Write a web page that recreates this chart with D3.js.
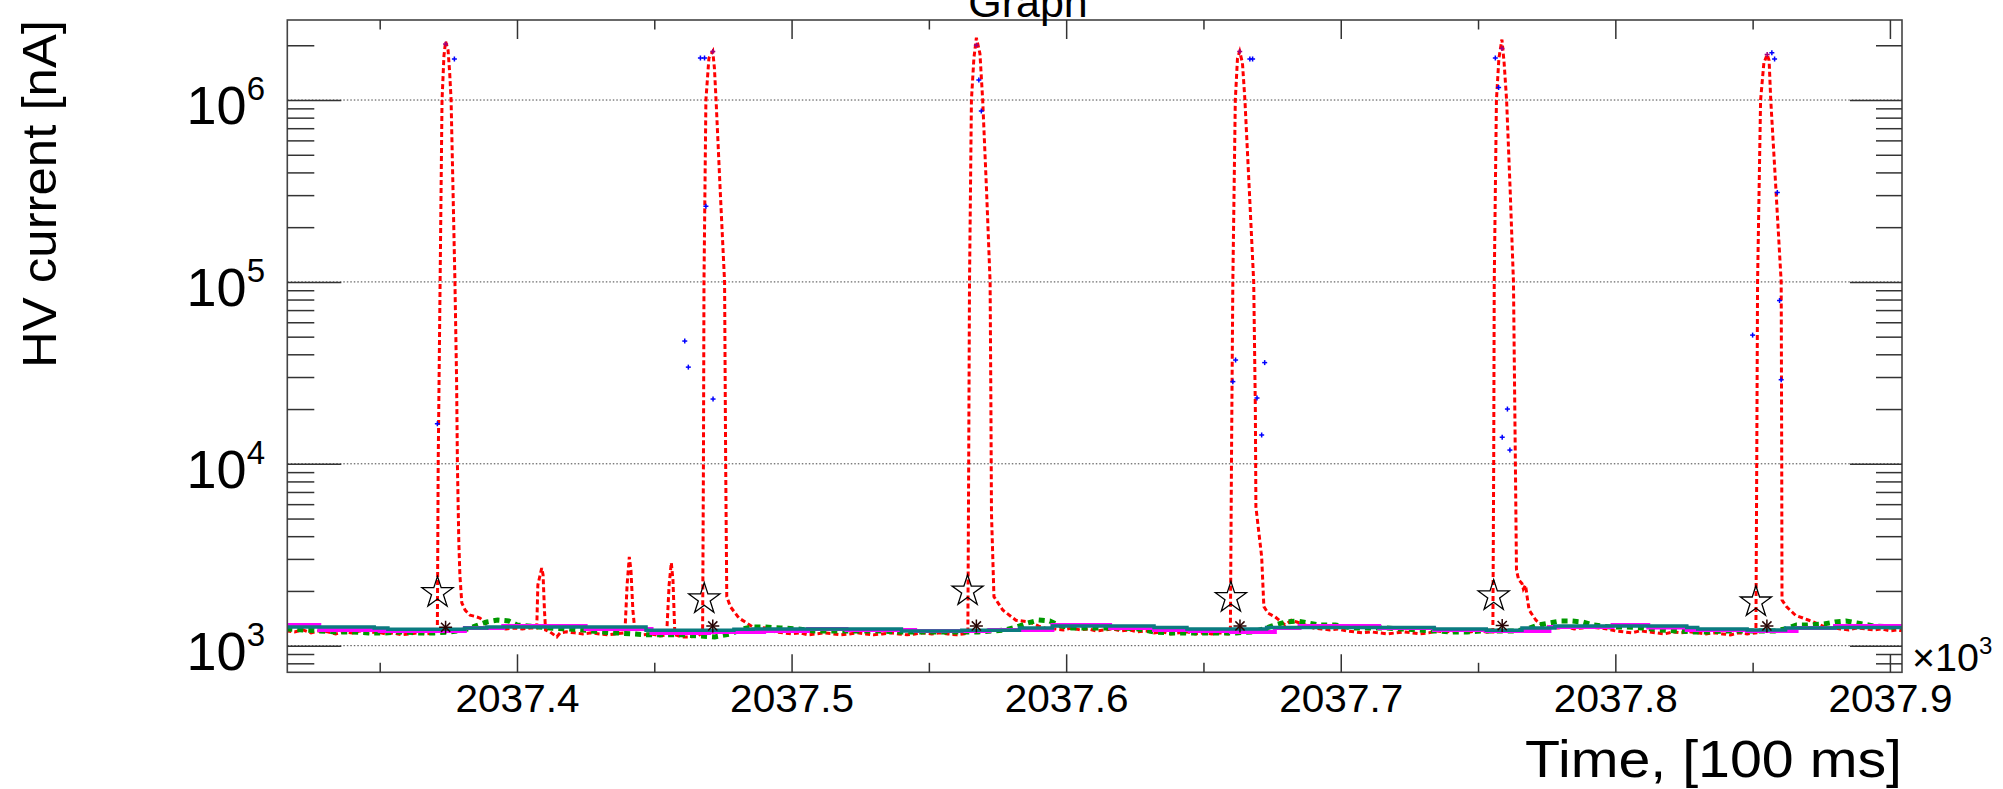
<!DOCTYPE html>
<html><head><meta charset="utf-8">
<script src="https://cdn.jsdelivr.net/npm/d3@7"></script>
<style>html,body{margin:0;padding:0;background:#fff;}svg{display:block;font-family:"Liberation Sans",Arial,Helvetica,sans-serif;}</style>
</head><body><svg id="c" width="2003" height="789"></svg>
<script>
// ---------- data (time in [100 ms], current in nA) ----------
const xDomain = [2037316.35, 2037904.4];
const yDomain = [714, 2.754e6];
const xMajorTicks = [2037400, 2037500, 2037600, 2037700, 2037800, 2037900];
const xTickLabels = ["2037.4", "2037.5", "2037.6", "2037.7", "2037.8", "2037.9"];
const xMinorTicks = [2037350, 2037450, 2037550, 2037650, 2037750, 2037850];
const yMajorTicks = [1e3, 1e4, 1e5, 1e6];
const yTickExponents = ["3", "4", "5", "6"];
const yMinorTicks = [800, 900, 2e3, 3e3, 4e3, 5e3, 6e3, 7e3, 8e3, 9e3, 2e4, 3e4, 4e4, 5e4, 6e4, 7e4, 8e4, 9e4,
  2e5, 3e5, 4e5, 5e5, 6e5, 7e5, 8e5, 9e5, 2e6];

const redTime = [2037316,2037319,2037322,2037325,2037328,2037331,2037334,2037337,2037340,2037343,2037346,2037349,2037352,2037355,2037358,2037361,2037364,2037367,2037370,
 2037371.0,2037371.3,2037372.0,2037372.7,2037373.4,2037374.0,2037374.9,2037375.5,2037376.0,2037376.7,2037377.4,2037378.0,2037378.3,2037378.8,2037379.2,2037379.9,2037381.1,2037382.9,2037384.7,2037386.5,2037388.3,2037390.2,
 2037393,2037396,2037399,2037402,2037405,2037407.2,2037407.6,2037409.0,2037409.5,2037410.0,2037410.4,2037412.0,2037414.5,2037415.7,2037418,2037421,2037424,2037427,2037430,2037433,2037436,
 2037439.3,2037440.1,2037440.9,2037441.5,2037442.2,2037443.0,2037446,2037449,2037452,2037454.5,2037455.4,2037456.2,2037456.8,2037457.5,2037460,2037463,2037466,
 2037467.6,2037467.9,2037468.1,2037468.8,2037469.9,2037471.3,2037471.9,2037472.5,2037474.0,2037475.6,2037476.0,2037476.4,2037477.7,2037480.8,2037485.8,2037490.7,
 2037494,2037497,2037500,2037503,2037506,2037509,2037512,2037515,2037518,2037521,2037524,2037527,2037530,2037533,2037536,2037539,2037542,2037545,2037548,2037551,2037554,2037557,2037560,2037563,
 2037564.2,2037564.5,2037564.8,2037565.5,2037566.4,2037567.3,2037568.6,2037569.6,2037571.0,2037572.3,2037572.6,2037572.8,2037573.7,2037576.9,2037581.7,2037586.6,2037590,2037593,
 2037596,2037599,2037602,2037605,2037608,2037611,2037614,2037617,2037620,2037623,2037626,2037629,2037632,2037635,2037638,2037641,2037644,2037647,2037650,2037653,2037656,2037659,
 2037659.8,2037660.2,2037660.7,2037661.6,2037662.4,2037663.2,2037664.2,2037665.1,2037666.7,2037668.3,2037668.9,2037669.1,2037671.2,2037672.0,2037673.5,2037676.1,2037679.7,2037682,2037684,2037687,2037690,2037693,
 2037696,2037699,2037702,2037705,2037708,2037711,2037714,2037717,2037720,2037723,2037726,2037729,2037732,2037735,2037738,2037741,2037744,2037747,2037750,2037753,
 2037755.4,2037755.7,2037755.9,2037756.7,2037757.6,2037758.7,2037759.5,2037760.4,2037761.7,2037762.9,2037763.6,2037764.0,2037764.8,2037766.0,2037766.5,2037767.3,2037767.9,2037768.6,2037771.1,2037773.4,
 2037776,2037779,2037782,2037785,2037788,2037791,2037794,2037797,2037800,2037803,2037806,2037809,2037812,2037815,2037818,2037821,2037824,2037827,2037830,2037833,2037836,2037839,2037842,2037845,2037848,
 2037851.2,2037851.5,2037851.8,2037852.9,2037854.1,2037855.3,2037856.0,2037856.6,2037858.5,2037860.4,2037860.6,2037860.7,2037862.3,2037865.6,2037870.5,2037876.3,
 2037879,2037882,2037885,2037888,2037891,2037894,2037897,2037900,2037903,2037904.4];
const redCurrent = [1206,1191,1221,1176,1206,1191,1161,1191,1176,1206,1176,1191,1161,1176,1147,1161,1176,1161,1176,
 1230,1.0e4,1.0e5,1.0e6,1.75e6,2.1e6,1.88e6,1.4e6,1.0e6,3.2e5,1.0e5,2.9e4,1.0e4,3.8e3,2.45e3,1.72e3,1.57e3,1.47e3,1.45e3,1.42e3,1.35e3,1.25e3,
 1252,1237,1252,1237,1252,1252,2157,2670,2450,1570,1221,1191,1118,1176,1191,1176,1161,1176,1161,1147,1161,
 1176,2157,3080,2600,1570,1176,1147,1161,1132,1147,2157,2860,2300,1147,1118,1118,1132,
 1190,1.0e4,1.0e5,1.0e6,1.7e6,1.85e6,1.5e6,1.0e6,3.2e5,1.0e5,1.0e4,1860,1640,1420,1270,1250,
 1191,1176,1161,1176,1147,1161,1176,1161,1147,1161,1176,1161,1147,1161,1176,1161,1147,1161,1176,1161,1176,1161,1147,1161,
 1176,1.0e4,1.0e5,1.0e6,1.7e6,2.2e6,1.8e6,1.0e6,3.2e5,1.0e5,2.0e4,5350,1860,1570,1380,1350,1280,1240,
 1237,1221,1252,1221,1237,1206,1221,1237,1206,1221,1191,1206,1176,1191,1161,1176,1191,1161,1176,1161,1176,1161,
 1176,1.0e4,1.0e5,1.0e6,1.7e6,1.85e6,1.6e6,1.0e6,3.2e5,1.0e5,2.0e4,5800,3080,1640,1510,1440,1300,1380,1350,1300,1250,1237,
 1221,1237,1206,1191,1176,1191,1176,1161,1176,1191,1176,1161,1176,1206,1191,1206,1221,1191,1206,1191,
 1191,1.0e4,1.0e5,1.0e6,1.7e6,2.15e6,1.6e6,1.0e6,3.2e5,1.0e5,1.0e4,2600,2300,2200,2050,2150,1850,1570,1380,1300,
 1268,1252,1268,1237,1252,1268,1252,1237,1206,1191,1176,1206,1191,1176,1161,1191,1176,1191,1176,1161,1176,1161,1147,1176,1161,
 1176,1.0e4,1.0e5,1.0e6,1.6e6,1.78e6,1.65e6,1.0e6,3.2e5,1.0e5,1.0e4,1780,1640,1470,1380,1270,
 1252,1237,1221,1252,1237,1221,1237,1206,1221,1206];

const greenTime = [2037316,2037322,2037328,2037334,2037340,2037346,2037352,2037358,2037364,2037370,2037376,2037381,2037385,2037389,2037393,2037397,2037400,2037404,2037408,2037412,
 2037418,2037424,2037430,2037436,2037442,2037448,2037454,2037460,2037466,2037472,2037478,2037482,2037486,2037490,2037496,2037502,2037508,2037514,2037520,2037526,
 2037532,2037538,2037544,2037550,2037556,2037562,2037568,2037574,2037578,2037582,2037586,2037590,2037594,2037598,2037602,2037608,2037614,2037620,2037626,2037632,
 2037638,2037644,2037650,2037656,2037662,2037668,2037672,2037676,2037680,2037684,2037688,2037692,2037698,2037704,2037710,2037716,2037722,2037728,2037734,2037740,
 2037746,2037752,2037758,2037764,2037768,2037772,2037776,2037780,2037784,2037788,2037792,2037798,2037804,2037810,2037816,2037822,2037828,2037834,2037840,2037846,
 2037852,2037858,2037862,2037866,2037870,2037876,2037880,2037884,2037888,2037894,2037900,2037904.4];
const greenCurrent = [1237,1221,1206,1191,1191,1176,1176,1191,1176,1176,1191,1221,1284,1350,1384,1367,1300,1284,1268,1252,
 1237,1221,1191,1176,1161,1147,1147,1147,1132,1118,1161,1237,1268,1268,1252,1237,1206,1206,1206,1206,
 1206,1191,1191,1191,1191,1191,1191,1206,1221,1268,1334,1384,1367,1284,1252,1252,1252,1252,1237,1191,
 1176,1176,1176,1176,1176,1191,1237,1300,1350,1367,1334,1300,1300,1252,1252,1252,1237,1221,1206,1191,
 1191,1206,1206,1206,1237,1300,1334,1367,1367,1350,1300,1268,1268,1252,1221,1206,1191,1191,1206,1206,
 1206,1206,1237,1300,1300,1317,1350,1367,1334,1284,1268,1268];

const magentaTime = [2037316,2037328,2037350,2037381,2037395,2037425,2037449,2037470,2037490,2037506,2037520,2037545,2037572,2037595,2037616,2037632,2037645,2037660,
 2037676,2037685,2037714,2037734,2037753,2037776,2037799,2037812,2037826,2037848,2037866,2037880,2037904.4];
const magentaCurrent = [1300,1221,1206,1252,1284,1237,1176,1191,1206,1237,1221,1206,1221,1300,1252,1221,1206,1191,
 1252,1284,1252,1221,1206,1268,1300,1260,1221,1206,1252,1284,1284];

const tealTime = [2037316,2037348,2037353,2037381,2037389,2037447,2037479,2037486,2037540,2037562,2037583,2037595,2037632,2037644,2037673,2037734,2037753,2037766,
 2037778,2037826,2037830,2037848,2037862,2037880,2037904.4];
const tealCurrent = [1268,1252,1230,1252,1268,1214,1230,1237,1206,1214,1252,1284,1260,1237,1260,1237,1214,1252,
 1284,1260,1237,1221,1252,1260,1260];

const blueTime = [2037377.2,2037371.0,2037466.8,2037468.3,2037461.1,2037462.4,2037468.8,2037471.4,2037568.2,2037569.1,2037666.9,2037667.9,2037661.7,2037660.7,
 2037672.3,2037669.5,2037671.2,2037756.3,2037757.5,2037760.7,2037758.8,2037761.6,2037857.0,2037858.0,2037859.0,2037859.8,2037850.0,2037860.4];
const blueCurrent = [1.68e6,1.66e4,1.7e6,1.7e6,4.73e4,3.4e4,2.61e5,2.27e4,1.29e6,8.7e5,1.68e6,1.68e6,3.72e4,2.83e4,
 3.6e4,2.3e4,1.44e4,1.7e6,1.17e6,2.0e4,1.4e4,1.19e4,1.82e6,1.68e6,3.1e5,7.9e4,5.1e4,2.9e4];

const peakTime = [2037374.0,2037471.3,2037567.3,2037663.2,2037758.7,2037855.3];
const peakCurrent = [2.03e6,1.85e6,2.0e6,1.85e6,1.92e6,1.78e6];

const starTime = [2037371.05,2037468.2,2037564.1,2037660.0,2037755.7,2037851.2];
const starCurrent = [1955,1806,1996,1835,1876,1737];

const asteriskTime = [2037374.0,2037471.3,2037567.3,2037663.3,2037758.8,2037855.2];
const asteriskCurrent = [1262,1284,1284,1284,1290,1284];

// ---------- drawing ----------
const W = 2003, H = 789;
const L = 287.3, R = 1902, T = 20, B = 672.3;
const svg = d3.select("#c");
svg.append("rect").attr("width", W).attr("height", H).attr("fill", "#fff");

const x = d3.scaleLinear().domain(xDomain).range([L, R]);
const y = d3.scaleLog().domain(yDomain).range([B, T]);

svg.append("clipPath").attr("id", "clip").append("rect")
  .attr("x", L).attr("y", T).attr("width", R - L).attr("height", B - T);

// grid
svg.append("g").selectAll("line").data(yMajorTicks).join("line")
  .attr("x1", L).attr("x2", R).attr("y1", d => y(d)).attr("y2", d => y(d))
  .attr("stroke", "#444").attr("stroke-width", 1).attr("stroke-dasharray", "1.5,2");

const plot = svg.append("g").attr("clip-path", "url(#clip)");
const zip = (ts, vs) => ts.map((t, i) => [t, vs[i]]);
const line = d3.line().x(d => x(d[0])).y(d => y(d[1]));
const step = d3.line().x(d => x(d[0])).y(d => y(d[1])).curve(d3.curveStepAfter);

plot.append("path").datum(zip(redTime, redCurrent)).attr("d", line)
  .attr("fill", "none").attr("stroke", "#ff0000").attr("stroke-width", 3).attr("stroke-dasharray", "5,3");
plot.append("path").datum(zip(greenTime, greenCurrent)).attr("d", line)
  .attr("fill", "none").attr("stroke", "#009900").attr("stroke-width", 5).attr("stroke-dasharray", "6,5");
plot.append("path").datum(zip(magentaTime, magentaCurrent)).attr("d", step)
  .attr("fill", "none").attr("stroke", "#ff00ff").attr("stroke-width", 4);
plot.append("path").datum(zip(tealTime, tealCurrent)).attr("d", step)
  .attr("fill", "none").attr("stroke", "#0b7b80").attr("stroke-width", 3.5);

function crosses(ts, vs, half, color, width) {
  const g = plot.append("g").attr("stroke", color).attr("stroke-width", width);
  const pts = zip(ts, vs);
  g.selectAll("line.h").data(pts).join("line").attr("class", "h")
    .attr("x1", d => x(d[0]) - half).attr("x2", d => x(d[0]) + half)
    .attr("y1", d => y(d[1])).attr("y2", d => y(d[1]));
  g.selectAll("line.v").data(pts).join("line").attr("class", "v")
    .attr("x1", d => x(d[0])).attr("x2", d => x(d[0]))
    .attr("y1", d => y(d[1]) - half).attr("y2", d => y(d[1]) + half);
  return g;
}
crosses(blueTime, blueCurrent, 2.5, "#0000ff", 1.5);
crosses(peakTime, peakCurrent, 2.5, "#a0007f", 1.5);

// stars
plot.append("g").selectAll("path").data(zip(starTime, starCurrent)).join("path")
  .attr("transform", d => `translate(${x(d[0])},${y(d[1])})`)
  .attr("d", d3.symbol(d3.symbolStar, 300))
  .attr("fill", "none").attr("stroke", "#000").attr("stroke-width", 1.3);

// asterisks
const ast = plot.append("g").attr("stroke", "#2a0505").attr("stroke-width", 1.5);
const astPts = zip(asteriskTime, asteriskCurrent);
[[1, 0], [0, 1], [0.707, 0.707], [0.707, -0.707]].forEach(([dx, dy], k) => {
  ast.selectAll("line.a" + k).data(astPts).join("line").attr("class", "a" + k)
    .attr("x1", d => x(d[0]) - 6.5 * dx).attr("x2", d => x(d[0]) + 6.5 * dx)
    .attr("y1", d => y(d[1]) - 6.5 * dy).attr("y2", d => y(d[1]) + 6.5 * dy);
});

// frame
svg.append("rect").attr("x", L).attr("y", T).attr("width", R - L).attr("height", B - T)
  .attr("fill", "none").attr("stroke", "#444").attr("stroke-width", 1.6);

function axisG(axis, tx, ty) {
  const g = svg.append("g").attr("transform", `translate(${tx},${ty})`).call(axis);
  g.select(".domain").remove();
  g.attr("font-family", null).attr("font-size", null);
  g.selectAll("line").attr("stroke", "#333").attr("stroke-width", 1.5);
  return g;
}
// bottom
const bx = axisG(d3.axisBottom(x).tickValues(xMajorTicks).tickSizeInner(-18).tickSizeOuter(0)
  .tickFormat((d, i) => xTickLabels[i]), 0, B);
bx.selectAll("text").attr("dy", null).attr("y", 40).attr("font-size", 38).attr("fill", "#000")
  .attr("textLength", 124).attr("lengthAdjust", "spacingAndGlyphs");
axisG(d3.axisBottom(x).tickValues(xMinorTicks).tickSizeInner(-9.5).tickSizeOuter(0).tickFormat(""), 0, B);
// top
axisG(d3.axisTop(x).tickValues(xMajorTicks).tickSizeInner(-19).tickSizeOuter(0).tickFormat(""), 0, T);
axisG(d3.axisTop(x).tickValues(xMinorTicks).tickSizeInner(-9.5).tickSizeOuter(0).tickFormat(""), 0, T);
// left
axisG(d3.axisLeft(y).tickValues(yMajorTicks).tickSizeInner(-54).tickSizeOuter(0).tickFormat(""), L, 0);
axisG(d3.axisLeft(y).tickValues(yMinorTicks).tickSizeInner(-27).tickSizeOuter(0).tickFormat(""), L, 0);
// right
axisG(d3.axisRight(y).tickValues(yMajorTicks).tickSizeInner(-52).tickSizeOuter(0).tickFormat(""), R, 0);
axisG(d3.axisRight(y).tickValues(yMinorTicks).tickSizeInner(-26).tickSizeOuter(0).tickFormat(""), R, 0);

// y tick labels 10^n
const yl = svg.append("g").selectAll("text").data(yMajorTicks).join("text")
  .attr("x", 265).attr("y", d => y(d) + 24).attr("text-anchor", "end").attr("fill", "#000");
yl.append("tspan").attr("font-size", 54).text("10");
yl.append("tspan").attr("font-size", 33).attr("dy", -24).text((d, i) => yTickExponents[i]);

// x10^3
const mult = svg.append("text").attr("x", 1912).attr("y", 671).attr("fill", "#000");
mult.append("tspan").attr("font-size", 39.5).text("\u00d710");
mult.append("tspan").attr("font-size", 24).attr("dy", -17).text("3");

// titles
svg.append("text").attr("x", 1028).attr("y", 16.7).attr("text-anchor", "middle")
  .attr("font-size", 43).attr("fill", "#000").text("Graph");
svg.append("text").attr("x", R).attr("y", 777).attr("text-anchor", "end")
  .attr("font-size", 52).attr("fill", "#000").attr("textLength", 377).attr("lengthAdjust", "spacingAndGlyphs")
  .text("Time, [100 ms]");
svg.append("text").attr("transform", `translate(56,${T}) rotate(-90)`).attr("text-anchor", "end")
  .attr("font-size", 48).attr("fill", "#000").attr("textLength", 348).attr("lengthAdjust", "spacingAndGlyphs")
  .text("HV current [nA]");
</script></body></html>
